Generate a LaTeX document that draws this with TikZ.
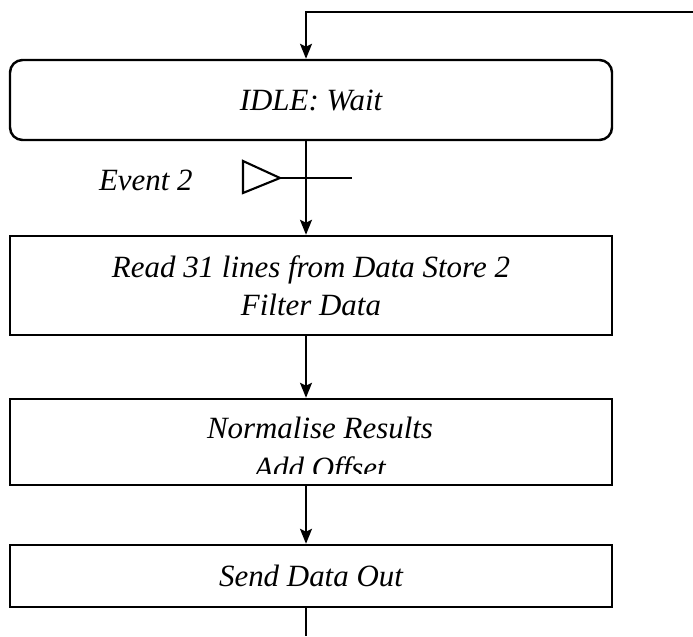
\documentclass[tikz,border=0pt]{standalone}
\usepackage{fontspec}
\setmainfont{Liberation Serif}
\usetikzlibrary{arrows.meta}
\tikzset{
  stepbox/.style={draw,line width=1.4pt,minimum width=12.04cm,inner sep=0pt,
    align=center,font=\itshape\fontsize{17.6}{21.6}\selectfont},
  steptext/.style={font=\itshape\fontsize{17.6}{21.6}\selectfont,inner sep=0pt},
  flow/.style={line width=1.2pt,-{Stealth[length=3mm,width=2.4mm,inset=0.6mm]}},
  wire/.style={line width=1.2pt}
}
\begin{document}
\begin{tikzpicture}
\useasboundingbox (0,0) rectangle (13.86,12.72);
% the four steps
\node[stepbox,rounded corners=0.25cm,minimum height=1.6cm] (idle) at (6.22,10.72) {IDLE: Wait};
\node[stepbox,minimum height=1.98cm] (read) at (6.22,7.01) {Read 31 lines from Data Store 2\\Filter Data};
\node[stepbox,minimum height=1.72cm] (norm) at (6.22,3.88) {};
\node[stepbox,minimum height=1.24cm] (send) at (6.22,1.2) {Send Data Out};
% text of the third step runs past its box
\begin{scope}
\clip (norm.west |- 0,3.26) rectangle (norm.north east);
\node[steptext,anchor=base] (normtop) at (6.4,3.96) {Normalise Results};
\node[steptext,anchor=base] (normbot) at (6.4,3.16) {Add Offset};
\end{scope}
% flow down the middle
\coordinate (spine) at (6.12,0);
\coordinate (loop) at (13.86,12.48);
\draw[flow] (loop) -- (loop -| spine) -- (idle.north -| spine);
\draw[flow] (idle.south -| spine) -- (read.north -| spine);
\draw[flow] (read.south -| spine) -- (norm.north -| spine);
\draw[flow] (norm.south -| spine) -- (send.north -| spine);
\draw[wire] (send.south -| spine) -- (spine);
% event on the first transition
\coordinate (evtip) at (5.6,9.16);
\coordinate (evend) at (7.04,9.16);
\draw[wire] (4.86,9.5) -- (evtip) -- (4.86,8.86) -- cycle;
\draw[wire] (evtip) -- (evend);
\node[steptext,anchor=base east] (evlabel) at (3.86,8.92) {Event 2};
\end{tikzpicture}
\end{document}
